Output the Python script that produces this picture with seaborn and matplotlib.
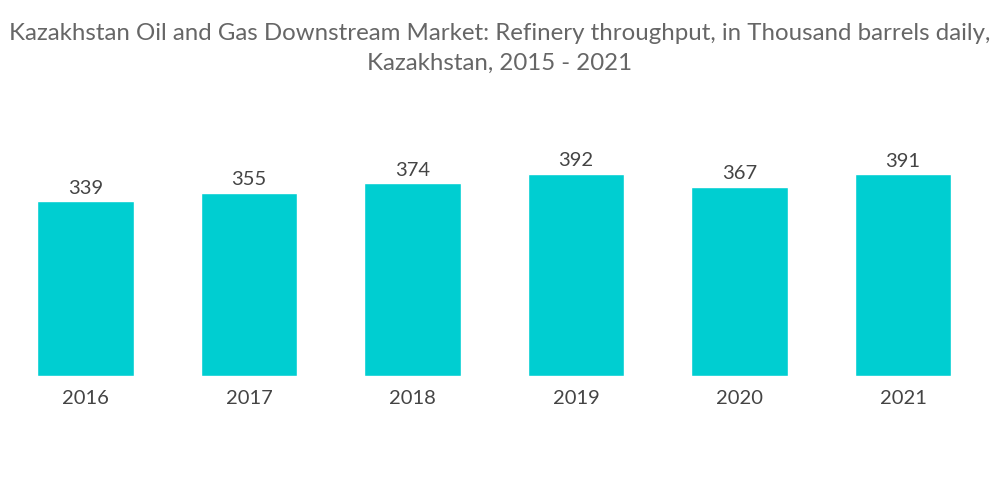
import matplotlib
matplotlib.use("Agg")
import matplotlib.pyplot as plt
import seaborn as sns
import pandas as pd

# Chart data
years = ["2016", "2017", "2018", "2019", "2020", "2021"]
throughput = [339, 355, 374, 392, 367, 391]

data = pd.DataFrame({"Year": years, "Throughput": throughput})

sns.set_style("white")
plt.rcParams['font.family'] = ['Lato', 'DejaVu Sans']

fig = plt.figure(figsize=(10, 5.04), dpi=100)
ax = fig.add_axes([0.0037, 0.254, 0.981, 0.488])

sns.barplot(x="Year", y="Throughput", data=data, color="#00CED1",
            width=0.59, saturation=1, ax=ax)

for i, v in enumerate(throughput):
    ax.text(i, v + 9, str(v), ha="center", va="bottom", fontsize=14.5, color="#444444")

ax.set_ylim(0, 477)
ax.set_xlim(-0.5, 5.5)
ax.set_yticks([])
ax.set_xlabel("")
ax.set_ylabel("")
ax.tick_params(axis="x", length=0, labelsize=14.5, labelcolor="#444444", pad=10)
sns.despine(left=True, bottom=True)

fig.suptitle("Kazakhstan Oil and Gas Downstream Market: Refinery throughput, in Thousand barrels daily,\nKazakhstan, 2015 - 2021",
             fontsize=17.3, color="#666666", y=0.955, va="top", linespacing=1.55)

fig.savefig("out.png", dpi=100)
